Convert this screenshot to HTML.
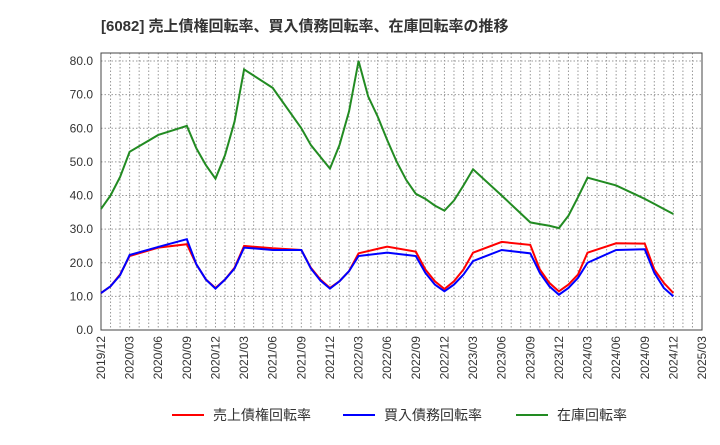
<!DOCTYPE html>
<html><head><meta charset="utf-8"><style>
body{margin:0;background:#fff;}
svg{font-family:"Liberation Sans","Noto Sans CJK JP",sans-serif;}
</style></head><body>
<svg width="720" height="440" id="c">
<text x="101" y="31" font-size="15" font-weight="bold" fill="#333">[6082]  売上債権回転率、買入債務回転率、在庫回転率の推移</text>
<g id="grid"></g><g id="axes"></g><g id="series"></g>
<g>
<line x1="172" y1="415" x2="204" y2="415" stroke="#ff0000" stroke-width="2"/>
<text x="213" y="420" font-size="14" fill="#333">売上債権回転率</text>
<line x1="343" y1="415" x2="375" y2="415" stroke="#0000ff" stroke-width="2"/>
<text x="384" y="420" font-size="14" fill="#333">買入債務回転率</text>
<line x1="516" y1="415" x2="548" y2="415" stroke="#228b22" stroke-width="2"/>
<text x="557" y="420" font-size="14" fill="#333">在庫回転率</text>
</g>
</svg>
<script>
const monthIdx=[0,1,2,3,6,9,10,11,12,13,14,15,18,21,22,23,24,25,26,27,30,33,34,35,36,37,38,39,42,45,46,47,48,49,50,51,54,57,58,59,60];
const invMonthIdx=[0,1,2,3,6,9,10,11,12,13,14,15,18,21,22,23,24,25,26,27,28,29,30,31,32,33,34,35,36,37,38,39,42,45,46,47,48,49,50,51,54,57,58,59,60];
const receivables=[11,13,16.5,22,24.5,25.5,19.5,15,12.5,15,18.5,25,24.3,23.8,18.5,15,12.5,14.5,17.5,22.8,24.8,23.3,18,14.5,12.2,14.5,18,23,26.2,25.3,18,14,11.5,13.5,16.5,23,25.8,25.7,18,14,11];
const payables=[11,13,16.3,22.3,24.7,27,19.5,15,12.3,15,18.3,24.5,23.8,23.8,18.3,14.7,12.3,14.5,17.5,22,23,22,17,13.5,11.5,13.5,16.5,20.5,23.8,22.8,17,13,10.5,12.5,15.5,20,23.8,24,17,12.5,10];
const inventory=[36,40,45.5,53,58,60.7,54,49,45,52,62,77.5,72,60,55,51.5,48,55,65,80,69.5,63.5,56.5,50,44.6,40.5,39,37,35.5,38.5,43,47.8,40,32,31.5,31,30.3,34,39.5,45.3,43,39,37.5,36,34.5];
const yTicks=[0,10,20,30,40,50,60,70,80];
const xTickLabels=["2019/12","2020/03","2020/06","2020/09","2020/12","2021/03","2021/06","2021/09","2021/12","2022/03","2022/06","2022/09","2022/12","2023/03","2023/06","2023/09","2023/12","2024/03","2024/06","2024/09","2024/12","2025/03"];
const L=101,R=702,T=53,B=330,NM=63;
const X=m=>L+(R-L)*m/NM, Y=v=>B-v*(B-61)/80;
const ns="http://www.w3.org/2000/svg";
function mk(tag,attrs,parent){const e=document.createElementNS(ns,tag);for(const k in attrs)e.setAttribute(k,attrs[k]);parent.appendChild(e);return e;}
const g=document.getElementById('grid'),a=document.getElementById('axes'),s=document.getElementById('series');
for(let m=1;m<NM;m++){const l=mk('line',{x1:X(m),x2:X(m),y1:T,y2:B,stroke:'#999','stroke-width':1,'stroke-dasharray':'1.5,2'},g);

}
yTicks.forEach(v=>{const l=mk('line',{x1:L,x2:R,y1:Y(v),y2:Y(v),stroke:'#999','stroke-width':1,'stroke-dasharray':'1.5,2'},g);


const t=mk('text',{x:L-8,y:Y(v)+4,'font-size':12,fill:'#333','text-anchor':'end'},a);t.textContent=v.toFixed(1);

});
xTickLabels.forEach((lab,i)=>{const x=X(i*3);const t=mk('text',{x:0,y:0,'font-size':12,fill:'#333','text-anchor':'end',transform:`translate(${x+4},${B+6}) rotate(-90)`},a);t.textContent=lab;

});
const fr=mk('rect',{x:L,y:T,width:R-L,height:B-T,fill:'none',stroke:'#444','stroke-width':1},a);


[[inventory,invMonthIdx,'#228b22','line-inventory'],[receivables,monthIdx,'#ff0000','line-receivables'],[payables,monthIdx,'#0000ff','line-payables']].forEach(([d,idx,c,n])=>{
const p=mk('polyline',{points:d.map((v,i)=>X(idx[i])+','+Y(v)).join(' '),fill:'none',stroke:c,'stroke-width':2},s);

});
</script>
</body></html>
